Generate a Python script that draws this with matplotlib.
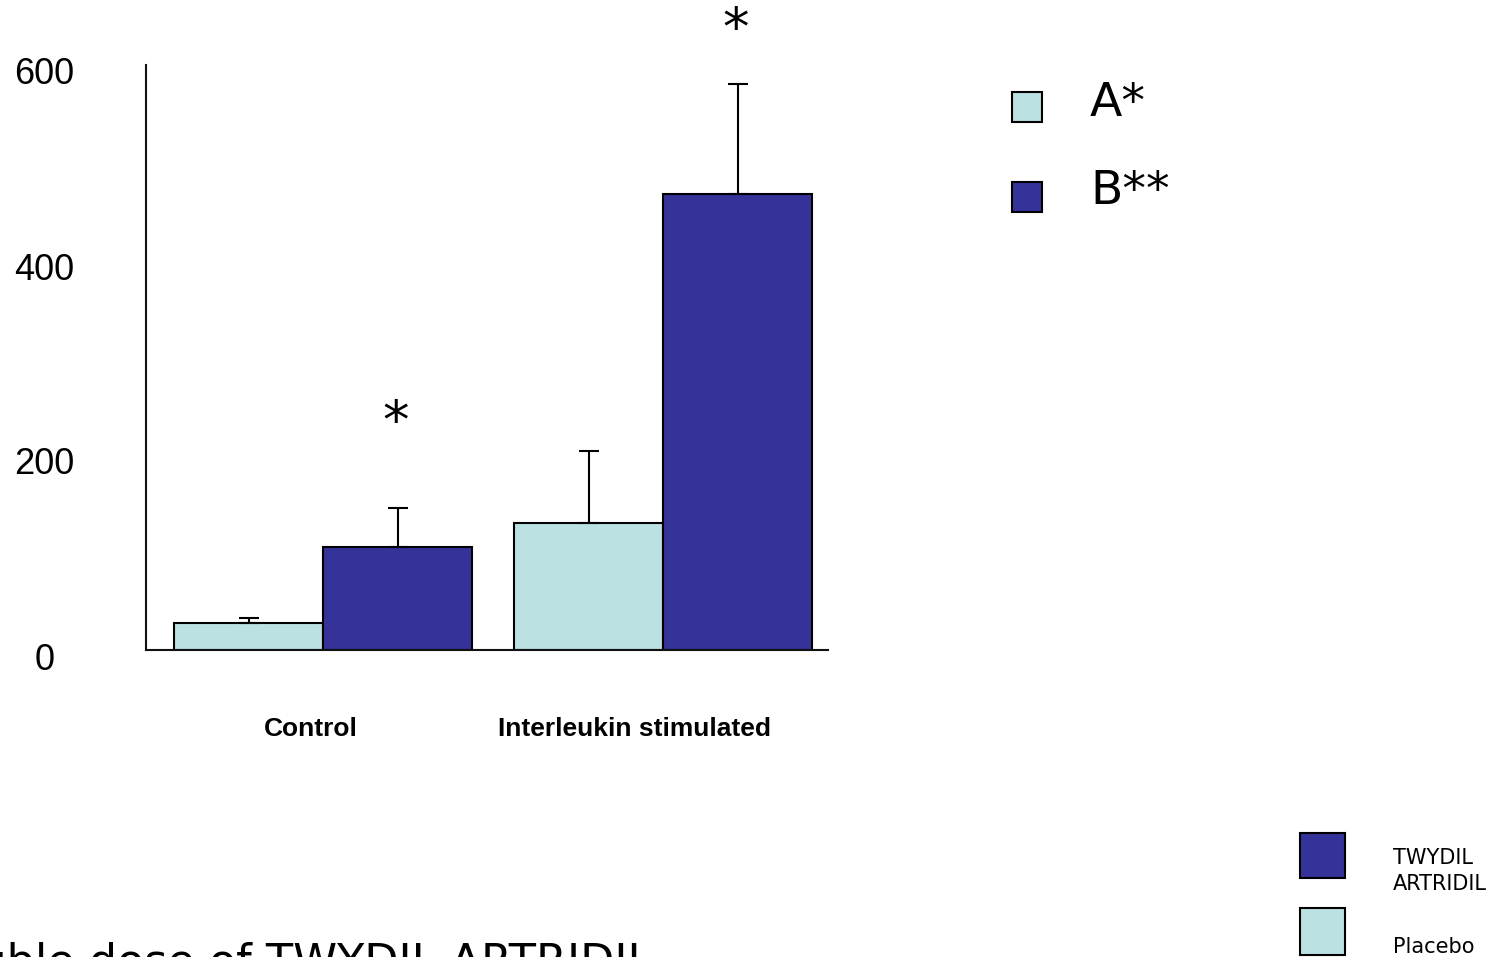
import numpy as np
import matplotlib.pyplot as plt
import matplotlib.transforms as mtransforms
from matplotlib.patches import Rectangle

# data
groups = ['Control', 'Interleukin stimulated']
placebo = [28, 130]
placebo_err = [5, 74]
twydil = [106, 468]
twydil_err = [40, 113]
star_y = [233, 636]  # height of the significance stars, data units
yticks = [0, 200, 400, 600]

light = '#bce1e3'
dark = '#353399'

W, H = 1505, 957
fig = plt.figure(figsize=(W / 100, H / 100), dpi=100)

def fx(x):
    return x / W

def fy(y):
    return 1 - y / H

# axes placed in pixel terms of the reference
ax = fig.add_axes([fx(146), fy(650), (828 - 146) / W, (650 - 65) / H])
ax.set_xlim(0, 682 / 149)
ax.set_ylim(0, 594)

centers = np.array([1.188, 3.47])
bw = 1.0
ax.bar(centers - bw / 2, placebo, width=bw, color=light, edgecolor='black', linewidth=1.5, zorder=2)
ax.bar(centers + bw / 2, twydil, width=bw, color=dark, edgecolor='black', linewidth=1.5, zorder=2)
ax.errorbar(centers - bw / 2, placebo, yerr=[np.zeros(2), placebo_err], fmt='none',
            ecolor='black', elinewidth=1.5, capsize=7, capthick=1.5, zorder=3)
ax.errorbar(centers + bw / 2, twydil, yerr=[np.zeros(2), twydil_err], fmt='none',
            ecolor='black', elinewidth=1.5, capsize=7, capthick=1.5, zorder=3)

# significance stars over the TWYDIL bars
for c, sy in zip(centers, star_y):
    ax.text(c + bw / 2 - 0.01, sy, '*', ha='center', va='center', fontsize=38,
            family='DejaVu Sans', clip_on=False)

for s in ['top', 'right']:
    ax.spines[s].set_visible(False)
for s in ['left', 'bottom']:
    ax.spines[s].set_linewidth(1.5)
    ax.spines[s].set_color('#111111')

ax.set_xticks([])
ax.set_yticks(yticks)
ax.set_yticklabels([str(t) for t in yticks], family='Liberation Sans', fontsize=26)
ax.tick_params(axis='y', length=0, pad=73)
shift = mtransforms.ScaledTranslation(0, -6 / 100, fig.dpi_scale_trans)
for lab in ax.get_yticklabels():
    lab.set_horizontalalignment('center')
    lab.set_transform(lab.get_transform() + shift)

# group labels
fig.text(fx(311), fy(729), groups[0], ha='center', va='center', fontsize=19,
         fontweight='bold', family='Liberation Sans')
fig.text(fx(634), fy(729), groups[1], ha='center', va='center', fontsize=19,
         fontweight='bold', family='Liberation Sans')

# top legend
fig.patches.append(Rectangle((fx(1012), fy(122)), 30 / W, 30 / H, transform=fig.transFigure,
                             facecolor=light, edgecolor='black', linewidth=1.5))
fig.patches.append(Rectangle((fx(1012), fy(212)), 30 / W, 30 / H, transform=fig.transFigure,
                             facecolor=dark, edgecolor='black', linewidth=1.5))
fig.text(fx(1090), fy(103), 'A*', ha='left', va='center', fontsize=34, family='DejaVu Sans')
fig.text(fx(1090), fy(192), 'B**', ha='left', va='center', fontsize=34, family='DejaVu Sans')

# bottom-right legend
fig.patches.append(Rectangle((fx(1300), fy(878)), 45 / W, 45 / H, transform=fig.transFigure,
                             facecolor=dark, edgecolor='black', linewidth=1.5))
fig.patches.append(Rectangle((fx(1300), fy(955)), 45 / W, 47 / H, transform=fig.transFigure,
                             facecolor=light, edgecolor='black', linewidth=1.5))
fig.text(fx(1393), fy(871), 'TWYDIL\nARTRIDIL', ha='left', va='center', fontsize=15,
         family='DejaVu Sans', linespacing=1.35)
fig.text(fx(1393), fy(947), 'Placebo', ha='left', va='center', fontsize=15, family='DejaVu Sans')

# caption cut off at the bottom edge
fig.text(fx(652), fy(975), 'Double dose of TWYDIL ARTRIDIL', ha='right', va='baseline',
         fontsize=32, family='DejaVu Sans')

fig.savefig('out.png', dpi=100)
